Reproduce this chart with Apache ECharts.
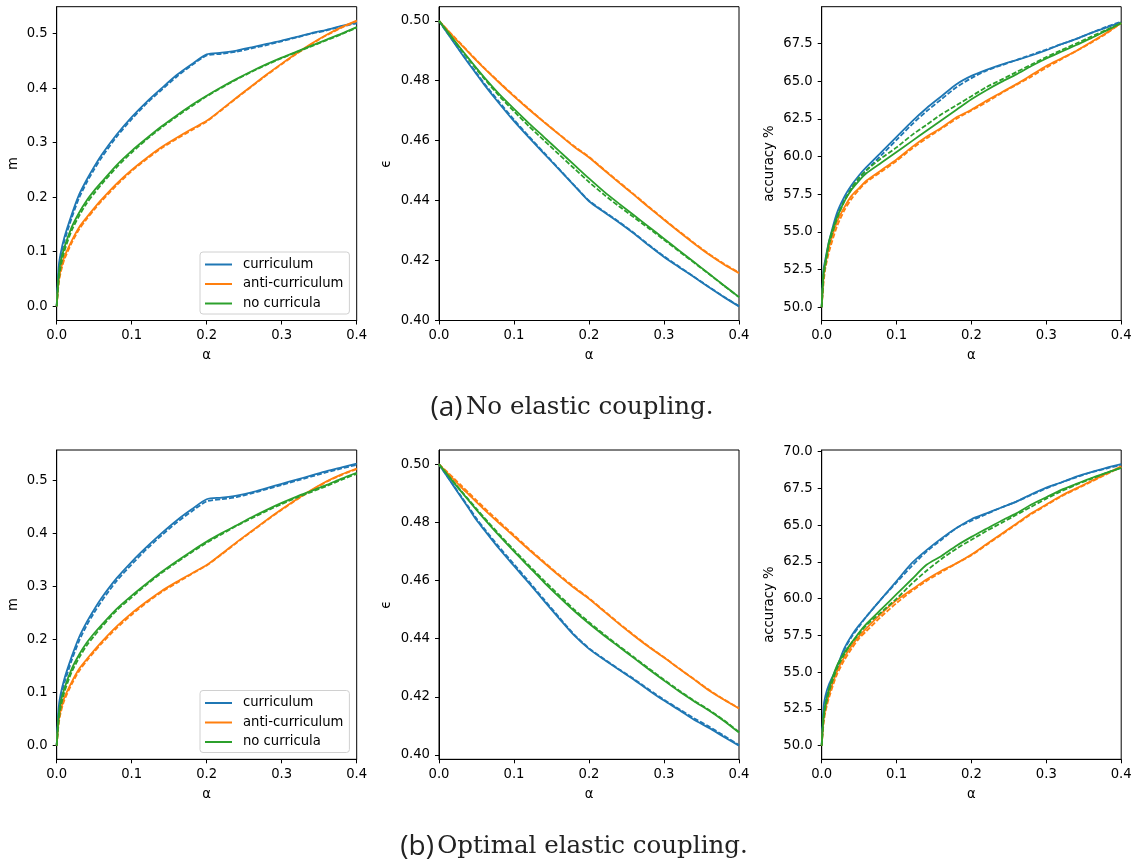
<!DOCTYPE html>
<html>
<head>
<meta charset="utf-8">
<script src="https://cdn.jsdelivr.net/npm/echarts@6/dist/echarts.min.js"></script>
<style>
  html, body { margin: 0; padding: 0; background: #fff; }
  #chart { width: 1136px; height: 866px; }
</style>
</head>
<body>
<div id="chart"></div>
<script>
// training time alpha, shared by every panel
const alpha = [0, 0.0025, 0.005, 0.01, 0.02, 0.03, 0.04, 0.05, 0.06, 0.08, 0.10, 0.12, 0.14, 0.16, 0.18, 0.20, 0.22, 0.24, 0.26, 0.28, 0.30, 0.32, 0.34, 0.36, 0.38, 0.40];

const curveNames = ['curriculum', 'anti-curriculum', 'no curricula'];

// tick labels
const alphaTicks = [0, 0.1, 0.2, 0.3, 0.4];
const mTicks = [0, 0.1, 0.2, 0.3, 0.4, 0.5];
const epsTicks = [0.40, 0.42, 0.44, 0.46, 0.48, 0.50];
const accTicksA = [50, 52.5, 55, 57.5, 60, 62.5, 65, 67.5];
const accTicksB = [50, 52.5, 55, 57.5, 60, 62.5, 65, 67.5, 70];

// (a) no elastic coupling — overlap m (simulation solid, theory dashed)
const mA_cur     = [0, 0.07, 0.095, 0.125, 0.168, 0.205, 0.232, 0.256, 0.278, 0.315, 0.347, 0.375, 0.400, 0.424, 0.444, 0.462, 0.465, 0.469, 0.475, 0.481, 0.487, 0.494, 0.501, 0.507, 0.514, 0.520];
const mA_cur_th  = [0, 0.06, 0.088, 0.118, 0.162, 0.199, 0.227, 0.251, 0.273, 0.311, 0.343, 0.372, 0.397, 0.421, 0.442, 0.460, 0.463, 0.467, 0.473, 0.479, 0.486, 0.493, 0.500, 0.506, 0.513, 0.519];
const mA_anti    = [0, 0.045, 0.065, 0.09, 0.12, 0.145, 0.163, 0.18, 0.196, 0.225, 0.25, 0.272, 0.292, 0.309, 0.325, 0.340, 0.361, 0.383, 0.404, 0.425, 0.445, 0.464, 0.482, 0.498, 0.512, 0.524];
const mA_anti_th = [0, 0.04, 0.06, 0.085, 0.116, 0.141, 0.160, 0.177, 0.193, 0.222, 0.248, 0.270, 0.290, 0.307, 0.323, 0.339, 0.360, 0.382, 0.403, 0.424, 0.444, 0.463, 0.481, 0.497, 0.511, 0.523];
const mA_none    = [0, 0.055, 0.08, 0.107, 0.145, 0.172, 0.194, 0.212, 0.228, 0.259, 0.285, 0.308, 0.330, 0.350, 0.369, 0.386, 0.402, 0.417, 0.431, 0.444, 0.456, 0.467, 0.478, 0.489, 0.500, 0.512];
const mA_none_th = [0, 0.045, 0.07, 0.1, 0.139, 0.166, 0.189, 0.207, 0.224, 0.255, 0.282, 0.306, 0.328, 0.348, 0.367, 0.385, 0.401, 0.416, 0.430, 0.443, 0.455, 0.466, 0.477, 0.488, 0.499, 0.511];

// (a) generalisation error epsilon
const epsA_cur     = [0.5, 0.4991, 0.4981, 0.4963, 0.4927, 0.4891, 0.4856, 0.4822, 0.4788, 0.4725, 0.4665, 0.4610, 0.4557, 0.4504, 0.4451, 0.4398, 0.4362, 0.4327, 0.4290, 0.4250, 0.4212, 0.4178, 0.4145, 0.4111, 0.4078, 0.4047];
const epsA_cur_th  = [0.5, 0.4991, 0.4982, 0.4964, 0.4929, 0.4893, 0.4859, 0.4826, 0.4792, 0.4730, 0.4670, 0.4614, 0.4560, 0.4506, 0.4452, 0.4400, 0.4364, 0.4329, 0.4292, 0.4252, 0.4214, 0.4180, 0.4146, 0.4112, 0.4079, 0.4048];
const epsA_anti    = [0.5, 0.4993, 0.4986, 0.4972, 0.4945, 0.4919, 0.4893, 0.4867, 0.4842, 0.4794, 0.4748, 0.4704, 0.4662, 0.4621, 0.4580, 0.4544, 0.4502, 0.4460, 0.4419, 0.4377, 0.4336, 0.4296, 0.4257, 0.4220, 0.4187, 0.4158];
const epsA_anti_th = [0.5, 0.4993, 0.4986, 0.4973, 0.4947, 0.4921, 0.4895, 0.4869, 0.4844, 0.4796, 0.4750, 0.4706, 0.4663, 0.4622, 0.4582, 0.4546, 0.4504, 0.4462, 0.4421, 0.4379, 0.4338, 0.4298, 0.4259, 0.4222, 0.4189, 0.4160];
const epsA_none    = [0.5, 0.4992, 0.4984, 0.4968, 0.4936, 0.4904, 0.4873, 0.4842, 0.4812, 0.4756, 0.4706, 0.4658, 0.4612, 0.4566, 0.4520, 0.4474, 0.4430, 0.4390, 0.4351, 0.4312, 0.4273, 0.4234, 0.4195, 0.4156, 0.4117, 0.4078];
const epsA_none_th = [0.5, 0.4992, 0.4984, 0.4967, 0.4934, 0.4902, 0.4870, 0.4838, 0.4808, 0.4750, 0.4698, 0.4648, 0.4601, 0.4554, 0.4508, 0.4462, 0.4420, 0.4381, 0.4344, 0.4307, 0.4269, 0.4231, 0.4193, 0.4155, 0.4116, 0.4078];

// (a) test accuracy in percent
const accA_cur     = [50.0, 52.5, 53.2, 54.4, 56.2, 57.3, 58.1, 58.75, 59.3, 60.3, 61.3, 62.3, 63.2, 64.0, 64.8, 65.35, 65.75, 66.1, 66.4, 66.7, 67.05, 67.45, 67.8, 68.2, 68.55, 68.9];
const accA_cur_th  = [50.0, 52.2, 53.0, 54.2, 56.0, 57.1, 57.9, 58.5, 59.1, 60.1, 61.1, 62.1, 63.0, 63.8, 64.6, 65.2, 65.7, 66.05, 66.4, 66.75, 67.1, 67.45, 67.8, 68.2, 68.6, 68.95];
const accA_anti    = [50.0, 52.0, 52.9, 54.0, 55.6, 56.6, 57.4, 57.9, 58.4, 59.1, 59.8, 60.6, 61.3, 61.9, 62.6, 63.1, 63.7, 64.25, 64.8, 65.4, 66.0, 66.5, 67.0, 67.6, 68.2, 68.85];
const accA_anti_th = [50.0, 51.6, 52.6, 53.7, 55.3, 56.4, 57.2, 57.8, 58.3, 59.0, 59.7, 60.5, 61.2, 61.85, 62.5, 63.05, 63.6, 64.2, 64.75, 65.3, 65.9, 66.45, 67.0, 67.55, 68.15, 68.85];
const accA_none    = [50.0, 52.3, 53.0, 54.4, 55.9, 57.0, 57.8, 58.4, 58.9, 59.6, 60.3, 61.0, 61.7, 62.4, 63.1, 63.8, 64.4, 64.95, 65.45, 66.0, 66.5, 66.95, 67.4, 67.85, 68.35, 68.85];
const accA_none_th = [50.0, 52.0, 52.8, 54.2, 55.8, 57.0, 57.9, 58.6, 59.1, 59.9, 60.6, 61.4, 62.1, 62.8, 63.4, 64.0, 64.6, 65.1, 65.6, 66.1, 66.6, 67.05, 67.5, 67.95, 68.4, 68.85];

// (b) optimal elastic coupling — overlap m
const mB_cur     = [0, 0.07, 0.095, 0.125, 0.168, 0.205, 0.233, 0.257, 0.279, 0.316, 0.347, 0.375, 0.401, 0.425, 0.446, 0.465, 0.468, 0.472, 0.478, 0.486, 0.494, 0.502, 0.510, 0.518, 0.525, 0.532];
const mB_cur_th  = [0, 0.06, 0.087, 0.117, 0.161, 0.198, 0.227, 0.251, 0.273, 0.311, 0.342, 0.371, 0.397, 0.421, 0.442, 0.461, 0.465, 0.469, 0.476, 0.484, 0.492, 0.500, 0.508, 0.516, 0.523, 0.530];
const mB_anti    = [0, 0.045, 0.065, 0.09, 0.12, 0.145, 0.163, 0.18, 0.196, 0.225, 0.25, 0.272, 0.292, 0.309, 0.325, 0.341, 0.362, 0.384, 0.405, 0.426, 0.446, 0.465, 0.483, 0.499, 0.512, 0.523];
const mB_anti_th = [0, 0.04, 0.06, 0.085, 0.116, 0.141, 0.160, 0.177, 0.193, 0.222, 0.247, 0.270, 0.290, 0.307, 0.324, 0.340, 0.361, 0.383, 0.404, 0.425, 0.445, 0.464, 0.482, 0.498, 0.511, 0.522];
const mB_none    = [0, 0.055, 0.08, 0.107, 0.145, 0.172, 0.194, 0.212, 0.228, 0.258, 0.283, 0.306, 0.328, 0.348, 0.367, 0.385, 0.401, 0.416, 0.431, 0.445, 0.458, 0.470, 0.481, 0.492, 0.504, 0.515];
const mB_none_th = [0, 0.045, 0.07, 0.1, 0.139, 0.166, 0.189, 0.207, 0.224, 0.255, 0.280, 0.304, 0.326, 0.346, 0.365, 0.383, 0.399, 0.415, 0.429, 0.443, 0.456, 0.468, 0.479, 0.490, 0.502, 0.513];

// (b) generalisation error epsilon
const epsB_cur     = [0.5, 0.4990, 0.4980, 0.4961, 0.4923, 0.4885, 0.4847, 0.4808, 0.4775, 0.4710, 0.4650, 0.4591, 0.4530, 0.4470, 0.4412, 0.4365, 0.4328, 0.4293, 0.4259, 0.4222, 0.4187, 0.4155, 0.4121, 0.4093, 0.4062, 0.4032];
const epsB_cur_th  = [0.5, 0.4990, 0.4981, 0.4962, 0.4925, 0.4888, 0.4851, 0.4813, 0.4780, 0.4716, 0.4656, 0.4596, 0.4535, 0.4474, 0.4415, 0.4367, 0.4330, 0.4295, 0.4261, 0.4225, 0.4190, 0.4158, 0.4126, 0.4098, 0.4066, 0.4034];
const epsB_anti    = [0.5, 0.4993, 0.4986, 0.4973, 0.4946, 0.4920, 0.4895, 0.4870, 0.4845, 0.4798, 0.4752, 0.4706, 0.4661, 0.4617, 0.4575, 0.4537, 0.4494, 0.4451, 0.4410, 0.4371, 0.4335, 0.4297, 0.4260, 0.4222, 0.4190, 0.4160];
const epsB_anti_th = [0.5, 0.4994, 0.4988, 0.4976, 0.4951, 0.4926, 0.4901, 0.4876, 0.4851, 0.4803, 0.4756, 0.4709, 0.4664, 0.4620, 0.4578, 0.4539, 0.4496, 0.4453, 0.4412, 0.4373, 0.4336, 0.4298, 0.4261, 0.4224, 0.4191, 0.4161];
const epsB_none    = [0.5, 0.4992, 0.4984, 0.4968, 0.4936, 0.4905, 0.4874, 0.4843, 0.4813, 0.4755, 0.4700, 0.4647, 0.4594, 0.4544, 0.4496, 0.4452, 0.4411, 0.4372, 0.4333, 0.4294, 0.4256, 0.4219, 0.4185, 0.4153, 0.4117, 0.4077];
const epsB_none_th = [0.5, 0.4992, 0.4984, 0.4969, 0.4938, 0.4907, 0.4877, 0.4847, 0.4817, 0.4760, 0.4705, 0.4652, 0.4600, 0.4550, 0.4501, 0.4457, 0.4415, 0.4375, 0.4336, 0.4297, 0.4259, 0.4222, 0.4187, 0.4155, 0.4119, 0.4079];

// (b) test accuracy in percent
const accB_cur     = [50.0, 52.6, 53.4, 54.2, 55.3, 56.6, 57.5, 58.2, 58.8, 60.0, 61.2, 62.4, 63.3, 64.1, 64.8, 65.4, 65.8, 66.2, 66.6, 67.1, 67.55, 67.9, 68.3, 68.6, 68.9, 69.15];
const accB_cur_th  = [50.0, 52.2, 53.1, 54.0, 55.2, 56.5, 57.4, 58.1, 58.8, 60.0, 61.1, 62.2, 63.2, 64.0, 64.8, 65.3, 65.75, 66.2, 66.6, 67.05, 67.5, 67.9, 68.25, 68.6, 68.85, 69.1];
const accB_anti    = [50.0, 51.8, 52.5, 53.5, 55.0, 56.0, 56.8, 57.45, 58.0, 59.0, 59.9, 60.6, 61.3, 61.9, 62.4, 63.0, 63.7, 64.4, 65.1, 65.8, 66.4, 67.0, 67.5, 68.0, 68.5, 69.0];
const accB_anti_th = [50.0, 51.5, 52.3, 53.3, 54.8, 55.8, 56.6, 57.3, 57.8, 58.8, 59.7, 60.5, 61.2, 61.8, 62.4, 62.95, 63.65, 64.35, 65.05, 65.75, 66.35, 66.95, 67.45, 67.95, 68.45, 68.95];
const accB_none    = [50.0, 52.0, 52.8, 53.9, 55.4, 56.3, 57.0, 57.7, 58.3, 59.3, 60.3, 61.3, 62.3, 62.9, 63.6, 64.2, 64.75, 65.3, 65.8, 66.4, 66.9, 67.4, 67.8, 68.2, 68.55, 68.9];
const accB_none_th = [50.0, 51.8, 52.6, 53.7, 55.2, 56.2, 57.0, 57.6, 58.2, 59.1, 60.0, 61.0, 61.9, 62.7, 63.4, 64.0, 64.6, 65.15, 65.7, 66.25, 66.8, 67.3, 67.75, 68.15, 68.55, 68.9];

// ---------------------------------------------------------------------------
const COLORS = ['#1f77b4', '#ff7f0e', '#2ca02c'];
const TEXT = '#000';
const FONT = 'DejaVu Sans';
const FS = 13.2;

const rowTop = [6.7, 450];
const rowHeight = [313.8, 309.3];
const colLeft = [56.7, 439, 821.7];
const colWidth = [300, 300, 299.5];

const panels = [
  { row: 0, col: 0, y: [-0.0262, 0.5494], ticks: mTicks,    dec: 1, name: 'm',          gap: 37, curves: [[mA_cur, mA_cur_th], [mA_anti, mA_anti_th], [mA_none, mA_none_th]] },
  { row: 0, col: 1, y: [0.4000, 0.5047],  ticks: epsTicks,  dec: 2, name: 'ϵ',          gap: 46, curves: [[epsA_cur, epsA_cur_th], [epsA_anti, epsA_anti_th], [epsA_none, epsA_none_th]] },
  { row: 0, col: 2, y: [49.11, 69.94],    ticks: accTicksA, dec: 1, name: 'accuracy %', gap: 46, curves: [[accA_cur, accA_cur_th], [accA_anti, accA_anti_th], [accA_none, accA_none_th]] },
  { row: 1, col: 0, y: [-0.0258, 0.5579], ticks: mTicks,    dec: 1, name: 'm',          gap: 37, curves: [[mB_cur, mB_cur_th], [mB_anti, mB_anti_th], [mB_none, mB_none_th]] },
  { row: 1, col: 1, y: [0.3985, 0.5049],  ticks: epsTicks,  dec: 2, name: 'ϵ',          gap: 46, curves: [[epsB_cur, epsB_cur_th], [epsB_anti, epsB_anti_th], [epsB_none, epsB_none_th]] },
  { row: 1, col: 2, y: [49.07, 70.11],    ticks: accTicksB, dec: 1, name: 'accuracy %', gap: 46, curves: [[accB_cur, accB_cur_th], [accB_anti, accB_anti_th], [accB_none, accB_none_th]] }
];

const grid = [], xAxis = [], yAxis = [], series = [];

panels.forEach((p, i) => {
  grid.push({
    left: colLeft[p.col], top: rowTop[p.row],
    width: colWidth[p.col], height: rowHeight[p.row],
    show: true, borderColor: '#000', borderWidth: 1, backgroundColor: 'transparent'
  });
  xAxis.push({
    type: 'value', gridIndex: i, min: 0, max: 0.4,
    name: 'α', nameLocation: 'middle', nameGap: 29,
    nameTextStyle: { color: TEXT, fontFamily: FONT, fontSize: FS },
    axisLine: { show: true, onZero: false, lineStyle: { color: '#000', width: 1 } },
    axisTick: { show: true, inside: false, length: 4, lineStyle: { color: '#000' }, customValues: alphaTicks },
    axisLabel: { color: TEXT, fontFamily: FONT, fontSize: FS, margin: 9, customValues: alphaTicks,
                 formatter: v => v.toFixed(1) },
    splitLine: { show: false }
  });
  yAxis.push({
    type: 'value', gridIndex: i, min: p.y[0], max: p.y[1],
    name: p.name, nameLocation: 'middle', nameGap: p.gap, nameRotate: 90,
    nameTextStyle: { color: TEXT, fontFamily: FONT, fontSize: FS },
    axisLine: { show: true, onZero: false, lineStyle: { color: '#000', width: 1 } },
    axisTick: { show: true, inside: false, length: 4, lineStyle: { color: '#000' }, customValues: p.ticks },
    axisLabel: { color: TEXT, fontFamily: FONT, fontSize: FS, margin: 9, customValues: p.ticks,
                 formatter: v => v.toFixed(p.dec) },
    splitLine: { show: false }
  });
  p.curves.forEach((pair, k) => {
    // simulation: solid line
    series.push({
      type: 'line', name: curveNames[k], xAxisIndex: i, yAxisIndex: i,
      data: alpha.map((a, j) => [a, pair[0][j]]),
      symbol: 'none', showSymbol: false, silent: true, animation: false,
      smooth: 0.25,
      lineStyle: { color: COLORS[k], width: 1.8 }, itemStyle: { color: COLORS[k] }
    });
    // theory: dashed line
    series.push({
      type: 'line', name: curveNames[k] + ' theory', xAxisIndex: i, yAxisIndex: i,
      data: alpha.map((a, j) => [a, pair[1][j]]),
      symbol: 'none', showSymbol: false, silent: true, animation: false,
      smooth: 0.25,
      lineStyle: { color: COLORS[k], width: 1.8, type: [5, 2] }, itemStyle: { color: COLORS[k] }
    });
  });
});

function legendAt(top) {
  return {
    data: curveNames, orient: 'vertical', left: 200, top: top,
    icon: 'rect', itemWidth: 27, itemHeight: 2, itemGap: 6.5,
    padding: [6, 6, 4, 5],
    backgroundColor: 'rgba(255,255,255,0.8)',
    borderColor: '#d0d0d0', borderWidth: 1, borderRadius: 3,
    selectedMode: false,
    textStyle: { color: TEXT, fontFamily: FONT, fontSize: FS, padding: [0, 0, 0, 6] }
  };
}

const captionRich = {
  a: { fontFamily: 'Open Sans', fontSize: 28, fill: '#222' },
  b: { fontFamily: 'DejaVu Serif', fontSize: 24.5, fill: '#222' }
};

const option = {
  backgroundColor: '#fff',
  animation: false,
  grid, xAxis, yAxis, series,
  legend: [legendAt(252), legendAt(690.5)],
  graphic: [
    { type: 'text', x: 572, y: 408,
      style: { text: '{a|(a)} {b|No elastic coupling.}', rich: captionRich, align: 'center', verticalAlign: 'middle' } },
    { type: 'text', x: 574, y: 847,
      style: { text: '{a|(b)} {b|Optimal elastic coupling.}', rich: captionRich, align: 'center', verticalAlign: 'middle' } }
  ]
};

const chart = echarts.init(document.getElementById('chart'), null, { renderer: 'canvas' });
chart.setOption(option);
</script>
</body>
</html>
